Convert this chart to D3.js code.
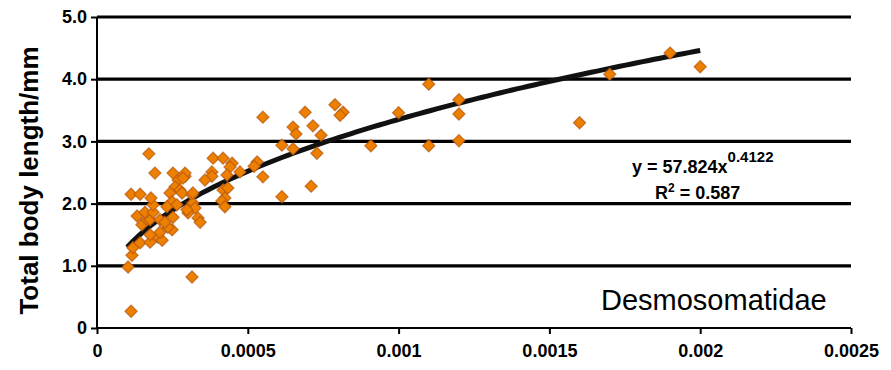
<!DOCTYPE html>
<html><head><meta charset="utf-8">
<script src="https://cdn.jsdelivr.net/npm/d3@7"></script>
<style>body{margin:0;background:#fff;}svg{display:block;}</style>
</head><body>
<svg id="c" width="891" height="370"></svg>
<script>
const xVals = [0.000113,0.000103,0.000116,0.000119,0.000143,0.000176,0.000202,0.000216,0.000176,0.000249,
0.000235,0.000149,0.000166,0.000176,0.000209,0.000225,0.000252,0.000133,0.000159,0.000186,
0.000186,0.000179,0.000113,0.000143,0.000172,0.000192,0.000252,0.000269,0.000292,0.000259,
0.000275,0.000242,0.000249,0.000265,0.000232,0.000282,0.000315,0.000318,0.000325,0.000302,
0.000335,0.000342,0.000315,0.000385,0.000418,0.000448,0.000441,0.000381,0.000381,0.000358,
0.000431,0.000474,0.000418,0.000434,0.000424,0.000414,0.000424,0.000531,0.000521,0.000550,
0.000550,0.000613,0.000613,0.000650,0.000660,0.000690,0.000716,0.000743,0.000650,0.000729,
0.000710,0.000789,0.000816,0.000806,0.000908,0.0010,0.0011,0.0011,0.0012,0.0012,
0.0012,0.0016,0.0017,0.0019,0.0020,0.000292,0.000285,0.000318,0.000298,0.000209];
const yVals = [0.27,0.98,1.17,1.29,1.37,1.38,1.46,1.41,1.50,1.58,
1.62,1.66,1.74,1.74,1.74,1.70,1.78,1.80,1.86,1.86,
1.98,2.09,2.15,2.15,2.80,2.49,2.49,2.38,2.44,2.27,
2.22,2.17,2.03,1.98,1.95,2.17,2.14,2.01,1.93,1.85,
1.77,1.70,0.82,2.73,2.73,2.65,2.59,2.51,2.44,2.38,
2.46,2.51,2.22,2.25,2.09,2.04,1.95,2.67,2.60,2.43,
3.39,2.94,2.11,3.23,3.12,3.47,3.25,3.10,2.88,2.81,
2.28,3.59,3.47,3.42,2.93,3.46,3.92,2.93,3.67,3.44,
3.01,3.30,4.08,4.42,4.20,2.49,2.41,2.17,1.90,1.54];
const xTicks = [0,0.0005,0.001,0.0015,0.002,0.0025];
const xTickLabels = ["0","0.0005","0.001","0.0015","0.002","0.0025"];
const yTicks = [0,1,2,3,4,5];
const yTickLabels = ["0","1.0","2.0","3.0","4.0","5.0"];
const fitCoef = 57.824, fitExp = 0.4122, fitR2 = "0.587";
const fitRange = [0.0001, 0.002];
const yTitle = "Total body length/mm";
const groupLabel = "Desmosomatidae";

const FONT = "Liberation Sans, Arial, Helvetica, sans-serif";
const svg = d3.select("#c");
const x = d3.scaleLinear().domain([0,0.0025]).range([97,851]);
const y = d3.scaleLinear().domain([0,5]).range([328,17]);

// gridlines
svg.append("g").selectAll("line").data(yTicks.filter(d=>d>0)).join("line")
  .attr("x1",x(0)).attr("x2",x(0.0025)).attr("y1",d=>y(d)).attr("y2",d=>y(d))
  .attr("stroke","#000").attr("stroke-width",3.2);

// x axis
const xAxis = d3.axisBottom(x).tickValues(xTicks).tickFormat((d,i)=>xTickLabels[i]).tickSize(6).tickPadding(10);
const gx = svg.append("g").attr("transform",`translate(0,${y(0)})`).call(xAxis);
gx.select(".domain").attr("stroke","#000").attr("stroke-width",2).attr("d",`M${x(0)},0H${x(0.0025)}`);
gx.selectAll(".tick line").attr("stroke","#000").attr("stroke-width",2);
gx.selectAll(".tick text").attr("font-family",FONT).attr("font-size",18)
  .attr("font-weight","bold").attr("fill","#000");

// y axis
const yAxis = d3.axisLeft(y).tickValues(yTicks).tickFormat((d,i)=>yTickLabels[i]).tickSize(6).tickPadding(4);
const gy = svg.append("g").attr("transform",`translate(${x(0)},0)`).call(yAxis);
gy.select(".domain").attr("stroke","#000").attr("stroke-width",2).attr("d",`M0,${y(0)}V${y(5)}`);
gy.selectAll(".tick line").attr("stroke","#000").attr("stroke-width",2);
gy.selectAll(".tick text").attr("font-family",FONT).attr("font-size",18)
  .attr("font-weight","bold").attr("fill","#000");

// y title
svg.append("text").attr("transform",`translate(38,${(y(0)+y(5))/2+8}) rotate(-90)`)
  .attr("text-anchor","middle").attr("font-family",FONT).attr("font-weight","bold")
  .attr("font-size",26).attr("fill","#000").text(yTitle);

// trendline
const fx = d3.range(0,101).map(i=>fitRange[0]+(fitRange[1]-fitRange[0])*i/100);
svg.append("path").datum(fx)
  .attr("d",d3.line().x(d=>x(d)).y(d=>y(fitCoef*Math.pow(d,fitExp))))
  .attr("fill","none").attr("stroke","#111").attr("stroke-width",5);

// points
const pts = xVals.map((v,i)=>({x:v,y:yVals[i]}));
svg.append("g").selectAll("path").data(pts).join("path")
  .attr("transform",d=>`translate(${x(d.x)},${y(d.y)})`)
  .attr("d","M0,-6L6,0L0,6L-6,0Z")
  .attr("fill","#ee8000").attr("stroke","#b85a10").attr("stroke-width",1.3).attr("stroke-opacity",0.75);

// equation
const eq = svg.append("text").attr("x",632).attr("y",173).attr("font-family",FONT)
  .attr("font-size",18).attr("font-weight","bold").attr("fill","#000");
eq.append("tspan").text(`y = ${fitCoef}x`);
eq.append("tspan").attr("dy",-11).attr("font-size",15).text(fitExp);
const r2 = svg.append("text").attr("x",655).attr("y",199).attr("font-family",FONT)
  .attr("font-size",18).attr("font-weight","bold").attr("fill","#000");
r2.append("tspan").text("R");
r2.append("tspan").attr("dy",-7).attr("font-size",12).text("2");
r2.append("tspan").attr("dy",7).text(` = ${fitR2}`);

// group label
svg.append("text").attr("x",601).attr("y",310).attr("font-family",FONT)
  .attr("font-size",29).attr("fill","#000").text(groupLabel);
</script>
</body></html>
